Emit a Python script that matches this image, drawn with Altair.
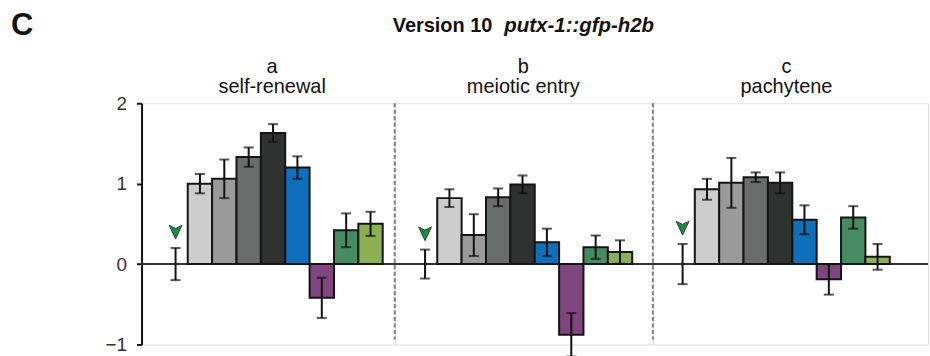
import altair as alt
import pandas as pd

# ---- data -------------------------------------------------------------
panels = ["a", "b", "c"]
panel_names = ["self-renewal", "meiotic entry", "pachytene"]

# slot 0 is the control (error bar only, marked with an arrowhead)
series = ["control", "gray1", "gray2", "gray3", "gray4", "blue", "purple", "green", "lime"]
colors = ["#ffffff", "#cdcdcd", "#9a9a9a", "#6b6c6c", "#303231", "#0f6fba", "#7f457e", "#468c63", "#8cb154"]

values_a = [0.00, 1.00, 1.06, 1.33, 1.63, 1.20, -0.42, 0.42, 0.50]
errors_a = [0.20, 0.12, 0.24, 0.12, 0.11, 0.14, 0.25, 0.21, 0.15]
values_b = [0.00, 0.82, 0.36, 0.83, 0.99, 0.27, -0.88, 0.21, 0.15]
errors_b = [0.18, 0.11, 0.26, 0.11, 0.11, 0.17, 0.27, 0.145, 0.145]
values_c = [0.00, 0.93, 1.01, 1.08, 1.01, 0.55, -0.19, 0.58, 0.09]
errors_c = [0.25, 0.13, 0.31, 0.06, 0.13, 0.18, 0.19, 0.14, 0.16]

y_ticks = [-1, 0, 1, 2]
title_letter = "C"
title_plain = "Version 10"
title_gene = "putx-1::gfp-h2b"

rows = []
for p, vals, errs in zip(panels, [values_a, values_b, values_c], [errors_a, errors_b, errors_c]):
    for i, (s, v, e, c) in enumerate(zip(series, vals, errs, colors)):
        rows.append({"panel": p, "slot": i, "series": s, "value": v,
                     "lo": v - e, "hi": v + e, "color": c})
df = pd.DataFrame(rows)

# ---- layout -----------------------------------------------------------
FONT = "Liberation Sans"
H = 242
widths = [254, 259, 276]
STEP = 24.45
band_start = [21.9, 18.2, 17.6]
title_center = [131, 129, 134]

y_scale = alt.Scale(domain=[-1, 2], nice=False, zero=False)


def y_axis(k):
    if k != 0:
        return None
    return alt.Axis(values=y_ticks, format="d", title=None, grid=False,
                    domainColor="#111", domainWidth=2, tickColor="#111",
                    tickWidth=2, tickSize=5, labelFontSize=19, labelFont=FONT,
                    labelColor="#333", labelPadding=10)


def label(text, x, y, size, weight="normal", style="normal", align="center"):
    return alt.Chart(pd.DataFrame({"t": [text]})).mark_text(
        font=FONT, fontSize=size, fontWeight=weight, fontStyle=style,
        align=align, baseline="alphabetic", color="#111").encode(
        text="t:N", x=alt.value(x), y=alt.value(y))


def panel(k):
    d = df[df.panel == panels[k]]
    x = alt.X("slot:O", axis=None,
              scale=alt.Scale(paddingInner=0, paddingOuter=0,
                              range=[band_start[k], band_start[k] + STEP * len(series)]))
    base = alt.Chart(d)
    ax = y_axis(k)

    zero = base.mark_rule(color="#333", strokeWidth=1.6).encode(
        y=alt.Y(datum=0, type="quantitative", scale=y_scale, axis=ax))

    bars = base.transform_filter(alt.datum.series != "control").mark_bar(
        stroke="#141414", strokeWidth=2).encode(
        x=x,
        y=alt.Y("value:Q", scale=y_scale, axis=ax),
        y2=alt.Y2(datum=0),
        fill=alt.Fill("color:N", scale=None))

    err = base.mark_rule(color="#111", strokeWidth=2).encode(
        x=x, y=alt.Y("lo:Q", scale=y_scale, axis=ax), y2="hi:Q")
    cap_lo = base.mark_tick(color="#111", size=10, thickness=2).encode(
        x=x, y=alt.Y("lo:Q", scale=y_scale, axis=ax))
    cap_hi = base.mark_tick(color="#111", size=10, thickness=2).encode(
        x=x, y=alt.Y("hi:Q", scale=y_scale, axis=ax))

    arrow = base.transform_filter(alt.datum.series == "control").mark_point(
        shape="M-1,-1.05L0,-0.55L1,-1.05L0,1.1Z", filled=True, fill="#1c8a40",
        stroke="#244a30", strokeWidth=1, size=165, opacity=1, yOffset=-16).encode(
        x=x, y=alt.Y("hi:Q", scale=y_scale, axis=ax))

    layers = [zero, bars, err, cap_lo, cap_hi, arrow,
              label(panels[k], title_center[k], -30, 20),
              label(panel_names[k], title_center[k], -10, 20)]

    if k > 0:
        divider = alt.Chart(pd.DataFrame({"k": [0]})).mark_rule(
            color="#808080", strokeWidth=2, strokeDash=[4, 2.5]).encode(
            x=alt.value(0), y=alt.value(0), y2=alt.value(237))
        layers.insert(0, divider)

    if k == 0:
        layers.append(label(title_letter, -131, -68, 31, weight="bold", align="left"))

    if k == 1:
        layers.append(label(title_plain, 98, -71, 20, weight="bold", align="right"))
        layers.append(label(title_gene, 110, -71, 20.5, weight="bold",
                            style="italic", align="left"))

    return alt.layer(*layers).properties(width=widths[k], height=H)


chart = alt.hconcat(panel(0), panel(1), panel(2), spacing=0, bounds="flush").properties(
    padding={"left": 10, "top": 9, "right": 0, "bottom": 0}
).configure_view(strokeWidth=0).configure(background="white")

chart.save("out.html", embed_options={"renderer": "svg", "actions": False})
